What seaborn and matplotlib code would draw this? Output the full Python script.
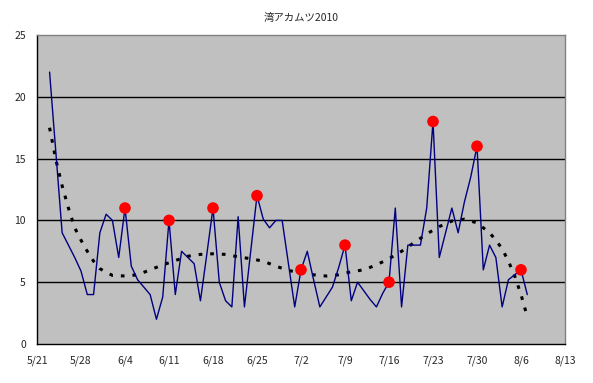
"""
Daily catch line with weekly markers and a trend curve, Excel-like look.
Outputs: out.png
"""

import pandas as pd
import matplotlib
matplotlib.use("Agg")
import matplotlib.pyplot as plt
import seaborn as sns

# ================= DATA =================
START_DAY = "2010-05-23"

daily_values = [
    22, 15.5, 9, 8.0, 7.0, 5.9, 4.0, 4.0, 9.0, 10.5,      # 5/23 - 6/1
    10.0, 7.0, 11, 6.3, 5.2, 4.6, 4.0, 2.0, 3.8, 10,      # 6/2 - 6/11
    4.0, 7.5, 7.0, 6.5, 3.5, 7.2, 11, 5.0, 3.5, 3.0,      # 6/12 - 6/21
    10.3, 3.0, 7.5, 12, 10.1, 9.4, 10, 10, 6.5, 3.0,      # 6/22 - 7/1
    6, 7.5, 5.2, 3.0, 3.8, 4.6, 6.2, 8, 3.5, 5.0,         # 7/2 - 7/11
    4.3, 3.6, 3.0, 4.1, 5, 11, 3.0, 8.0, 8.0, 8.0,        # 7/12 - 7/21
    11, 18, 7.0, 9.0, 11, 9.0, 11.5, 13.5, 16, 6.0,       # 7/22 - 7/31
    8.0, 7.0, 3.0, 5.2, 5.6, 6, 4.0,                      # 8/1 - 8/7
]

weekly_dates = ["2010-06-04", "2010-06-11", "2010-06-18", "2010-06-25",
                "2010-07-02", "2010-07-09", "2010-07-16", "2010-07-23",
                "2010-07-30", "2010-08-06"]
weekly_values = [11, 10, 11, 12, 6, 8, 5, 18, 16, 6]

# trend curve (days after 5/21)
trend_days = [2, 3, 4, 5, 6, 7, 8, 9, 10, 11, 12, 14, 16, 18, 20, 22, 24,
              26, 28, 30, 32, 34, 36, 38, 40, 42, 44, 46, 48, 50, 52, 54,
              56, 58, 60, 62, 64, 66, 68, 70, 72, 73, 74, 75, 76, 77, 78]
trend_values = [17.5, 14.9, 12.8, 11.0, 9.4, 8.4, 7.5, 6.7, 6.1, 5.8, 5.55,
                5.5, 5.6, 6.0, 6.4, 6.75, 7.1, 7.25, 7.3, 7.25, 7.05, 6.9,
                6.7, 6.3, 5.95, 5.75, 5.6, 5.5, 5.6, 5.85, 6.0, 6.4, 6.9,
                7.5, 8.2, 8.9, 9.5, 9.95, 10.1, 9.8, 9.0, 8.4, 7.7, 6.7,
                5.5, 4.0, 2.2]

TITLE = "湾アカムツ2010"
Y_TICKS = [0, 5, 10, 15, 20, 25]
# ========================================

daily = pd.DataFrame({
    "date": pd.date_range(START_DAY, periods=len(daily_values), freq="D"),
    "value": daily_values,
})
weekly = pd.DataFrame({"date": pd.to_datetime(weekly_dates), "value": weekly_values})
trend = pd.DataFrame({
    "date": pd.Timestamp("2010-05-21") + pd.to_timedelta(trend_days, unit="D"),
    "value": trend_values,
})

sns.set_style("white")
plt.rcParams["font.family"] = ["Noto Sans CJK JP", "DejaVu Sans"]

fig = plt.figure(figsize=(5.93, 3.83), dpi=100)
ax = fig.add_axes([37 / 593, 1 - 344 / 383, 528 / 593, 309 / 383])
ax.set_facecolor("#C0C0C0")

for y in Y_TICKS[1:-1]:
    ax.axhline(y, color="black", lw=1.0, zorder=1)

sns.lineplot(data=daily, x="date", y="value", ax=ax, color="#000080",
             lw=1.0, zorder=3)
sns.lineplot(data=trend, x="date", y="value", ax=ax, color="black",
             lw=2.2, linestyle=(0, (1.2, 2.6)), zorder=2)
sns.scatterplot(data=weekly, x="date", y="value", ax=ax, color="#FF0000",
                s=70, edgecolor="none", zorder=4)

x_ticks = pd.date_range("2010-05-21", "2010-08-13", freq="7D")
ax.set_xlim(x_ticks[0], x_ticks[-1])
ax.set_xticks(x_ticks)
ax.set_xticklabels([f"{d.month}/{d.day}" for d in x_ticks], fontsize=7.5)
ax.set_ylim(0, 25)
ax.set_yticks(Y_TICKS)
ax.set_yticklabels([str(v) for v in Y_TICKS], fontsize=7.5)
ax.set_xlabel("")
ax.set_ylabel("")

ax.tick_params(axis="both", direction="out", length=4, width=1,
               color="black", pad=4)
for side in ["left", "bottom"]:
    ax.spines[side].set_color("black")
    ax.spines[side].set_linewidth(1.0)
for side in ["top", "right"]:
    ax.spines[side].set_color("#808080")
    ax.spines[side].set_linewidth(1.0)

fig.text(301 / 593, 1 - 18 / 383, TITLE, ha="center", va="center",
         fontsize=7.5)

fig.savefig("out.png", dpi=100, facecolor="white")
